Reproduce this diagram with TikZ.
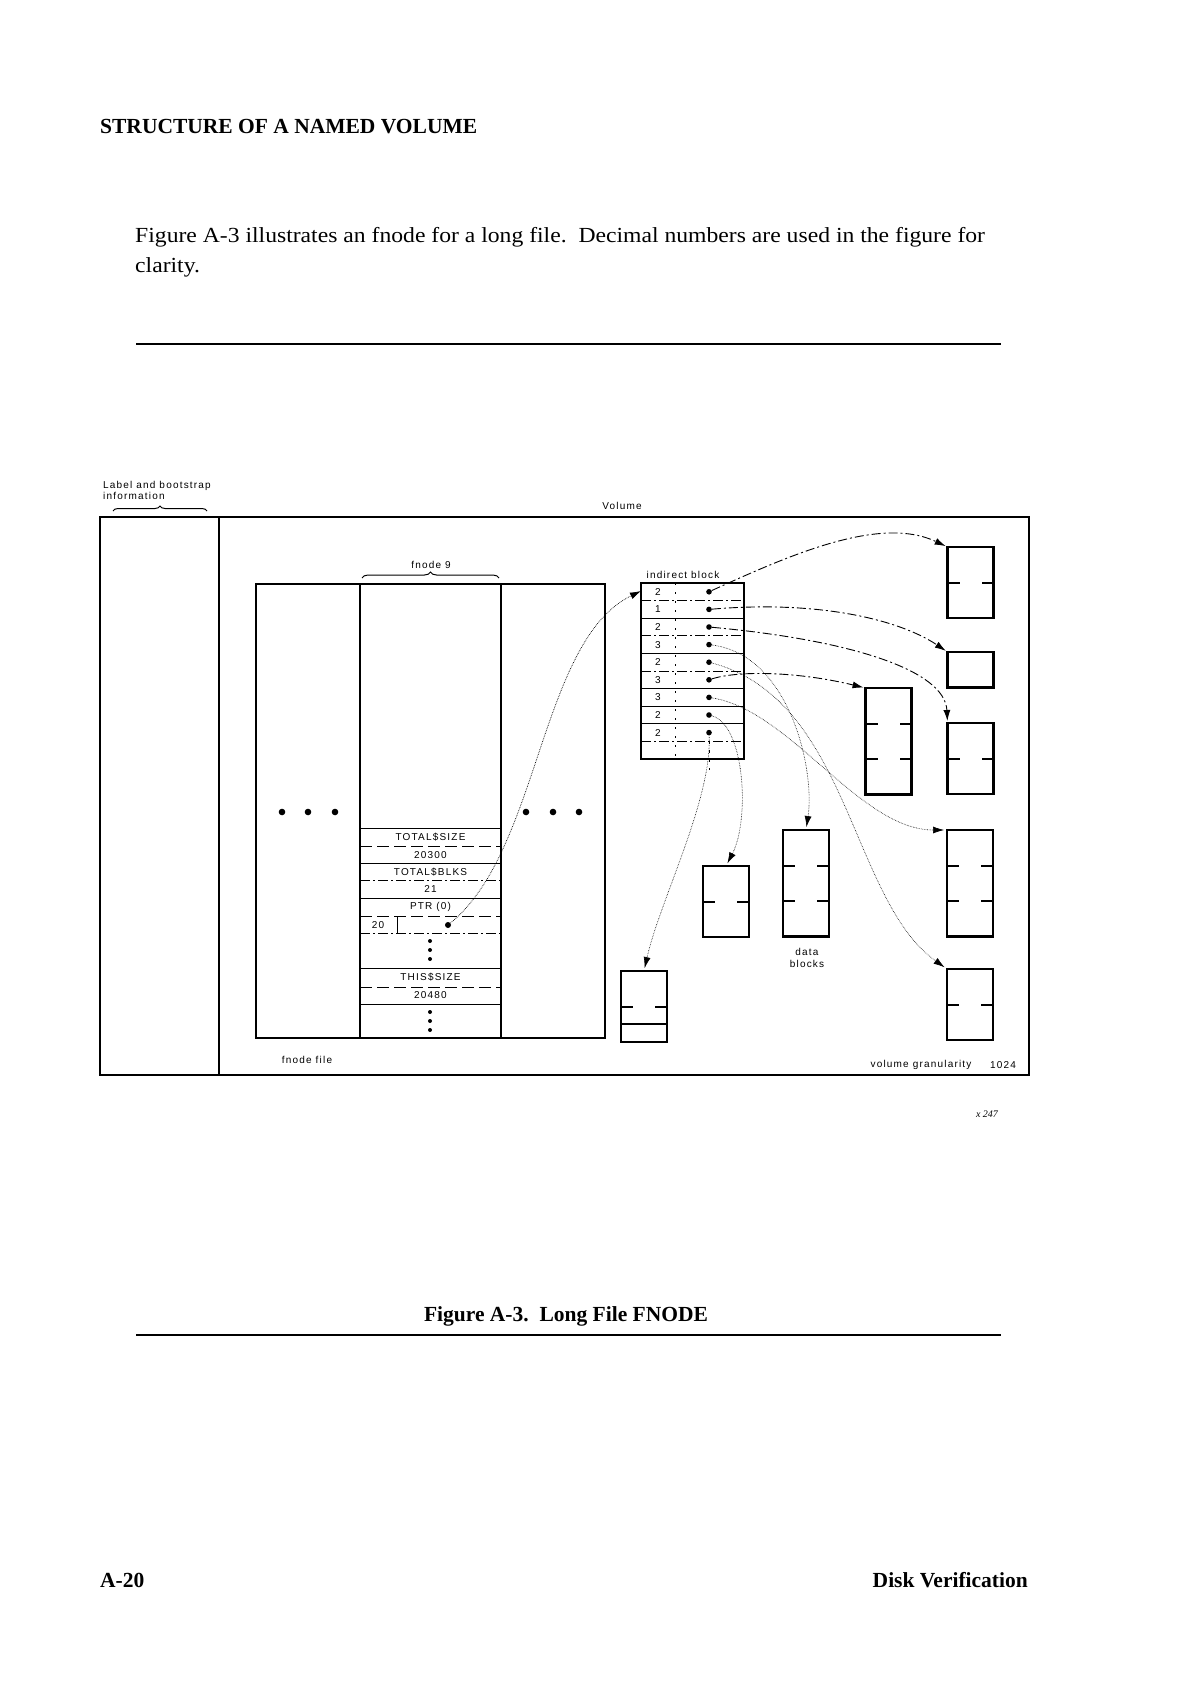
\documentclass[tikz,border=0pt]{standalone}
\usepackage{fontspec}
\setmainfont{Liberation Serif}
\newfontfamily\bodyfont[FakeStretch=1.1]{Liberation Serif}
\newfontfamily\diagfont[LetterSpace=12]{Liberation Sans}
\usetikzlibrary{arrows.meta, positioning, decorations.pathreplacing, calc}

\begin{document}
\begin{tikzpicture}[x=1pt, y=-1pt,
    lbl/.style={font=\diagfont\fontsize{10}{11.5}\selectfont, inner sep=0pt},
    hdr/.style={font=\bfseries\fontsize{21.5}{26}\selectfont, inner sep=0pt},
    txt/.style={font=\bodyfont\fontsize{21.5}{30}\selectfont, inner sep=0pt},
    col/.style={draw, line width=1.4pt, anchor=north west, inner sep=0pt, outer sep=0pt},
    datablk/.style={draw, line width=2.2pt, anchor=north, inner sep=0pt, outer sep=0pt, minimum width=46pt},
    dotn/.style={circle, fill, inner sep=0pt, minimum size=5.6pt},
    solidsep/.style={line width=1pt},
    dotsep/.style={line width=0.8pt, dash pattern=on 10pt off 3pt on 2pt off 3pt},
    ptrline/.style={line width=0.9pt, dash pattern=on 9pt off 3pt on 2pt off 3pt, shorten >=2pt, -{Latex[length=11pt,width=7pt]}},
    faint/.style={line width=0.6pt, densely dotted, shorten >=3pt, -{Latex[length=11pt,width=7pt]}}]

  % page
  \useasboundingbox (0,0) rectangle (1190,1683);
  \node[hdr, anchor=base west] (title) at (100,134) {STRUCTURE OF A NAMED VOLUME};
  \node[txt, anchor=base west] (para1) at (135,242) {Figure A-3 illustrates an fnode for a long file.\ \ Decimal numbers are used in the figure for};
  \node[txt, anchor=base west] (para2) at (135,272) {clarity.};
  \draw[line width=1.8pt] (136,344) -- (1001,344);

  % volume outline
  \draw[line width=1.8pt] (100,517) rectangle (1029,1075);
  \draw[line width=1.4pt] (219,517) -- (219,1075);
  \node[lbl, anchor=north west, align=left] (boot) at (103,481) {Label and bootstrap\\information};
  \draw[decorate, decoration={brace, amplitude=5pt}, line width=1pt] (113,511) -- (207,511);
  \node[lbl] (vol) at (622,506) {Volume};

  % fnode file
  \node[col, minimum width=104pt, minimum height=454pt] (colL) at (256,584) {};
  \node[col, minimum width=141pt, minimum height=454pt] (fnode9) at (360,584) {};
  \node[col, minimum width=104pt, minimum height=454pt] (colR) at (501,584) {};
  \draw[decorate, decoration={brace, amplitude=6pt}, line width=1pt] (362,578) -- (499,578);
  \node[lbl] (fn9lbl) at (431,565) {fnode 9};
  \node[lbl] (fflbl) at (307,1060) {fnode file};
  \foreach \x in {282,308,335,526,553,579}
    \fill (\x,812) circle (3.3pt);

  % fields of fnode 9
  \draw[line width=0.7pt] (360,828) -- (501,828);
  \draw[line width=0.8pt, dash pattern=on 12pt off 5pt] (360,846) -- (501,846);
  \draw[line width=1pt] (360,863) -- (501,863);
  \draw[dotsep] (360,880) -- (501,880);
  \draw[line width=1pt] (360,898) -- (501,898);
  \draw[line width=0.8pt, dash pattern=on 12pt off 5pt] (360,916) -- (501,916);
  \draw[dotsep] (360,933) -- (501,933);
  \draw[line width=0.8pt] (360,968) -- (501,968);
  \draw[line width=0.8pt, dash pattern=on 12pt off 5pt] (360,987) -- (501,987);
  \draw[line width=1pt] (360,1004) -- (501,1004);
  \draw[line width=0.8pt] (397,916) -- (397,933);
  \node[lbl] (tsize) at (430.5,837) {TOTAL\$SIZE};
  \node[lbl] (tsizev) at (430.5,855) {20300};
  \node[lbl] (tblks) at (430.5,872) {TOTAL\$BLKS};
  \node[lbl] (tblksv) at (430.5,889) {21};
  \node[lbl] (ptrlbl) at (430.5,907) {PTR (0)};
  \node[lbl] (ptrcnt) at (378,925) {20};
  \node[dotn, minimum size=6pt] (ptr) at (448,925) {};
  \node[lbl] (thsize) at (430.5,977) {THIS\$SIZE};
  \node[lbl] (thsizev) at (430.5,995) {20480};
  \foreach \y in {941,950,959,1012,1021,1030}
    \fill (430,\y) circle (2pt);

  % indirect block
  \node[draw, line width=2.4pt, inner sep=0pt, outer sep=0pt, anchor=north west,
        minimum width=103pt, minimum height=176pt] (indblk) at (641,583) {};
  \node[lbl] (indlbl) at (683,575) {indirect block};
  \foreach \k/\s in {1/dotsep,2/solidsep,3/dotsep,4/solidsep,5/dotsep,6/solidsep,7/solidsep,8/solidsep,9/dotsep}
    \draw[\s] (641,{583+\k*17.6}) -- (744,{583+\k*17.6});
  \draw[line width=0.5pt, dash pattern=on 2pt off 7pt] (675,583) -- (675,759);
  \draw[line width=0.6pt, dash pattern=on 3pt off 6pt] (709,741) -- (709,770);
  \foreach \v [count=\i] in {2,1,2,3,2,3,3,2,2} {
    \node[lbl] (n\i) at (658,{583+(\i-0.5)*17.6}) {\v};
    \node[dotn] (p\i) at (709,{583+(\i-0.5)*17.6}) {};
  }

  % data blocks
  \foreach \nm/\cx/\ty/\ns in {A/970.5/547/2, B/970.5/652/1, C/970.5/723/2, D/888.5/688/3,
      E/970/830/3, F/970/969/2, G/806/830/3, H/726/866/2, I/644/971/2}
    \node[datablk, minimum height=\ns*35.5pt] (blk\nm) at (\cx,\ty) {};
  \foreach \nm/\k in {A/1,C/1,D/1,D/2,E/1,E/2,F/1,G/1,G/2,H/1,I/1} {
    \draw[line width=2pt] ($(blk\nm.north west)+(0,\k*35.5)$) -- ++(12,0);
    \draw[line width=2pt] ($(blk\nm.north east)+(0,\k*35.5)$) -- ++(-12,0);
  }
  \draw[line width=2pt] ($(blkI.north west)+(0,53)$) -- ($(blkI.north east)+(0,53)$);
  \node[lbl, align=center] (dblbl) at (807,958) {data\\blocks};
  \node[lbl] (vgran) at (921,1065) {volume granularity};
  \node[lbl] (vgval) at (1003,1065) {1024};

  % pointers
  \draw[line width=0.7pt, densely dotted, -{Latex[length=11pt,width=7pt]}]
    (ptr) .. controls (540,850) and (540,640) .. ($(indblk.north west)+(0,8)$);
  \draw[ptrline] (p1) .. controls (790,555) and (880,515) .. (blkA.north west);
  \draw[ptrline] (p2) .. controls (820,600) and (900,620) .. (blkB.north west);
  \draw[ptrline] (p3) .. controls (850,640) and (945,670) .. (blkC.north west);
  \draw[ptrline] (p6) .. controls (740,670) and (800,672) .. (blkD.north west);
  \draw[faint] (p4) .. controls (790,655) and (815,770) .. (blkG.north);
  \draw[faint] (p5) .. controls (850,700) and (850,900) .. (blkF.north west);
  \draw[faint] (p7) .. controls (790,710) and (860,830) .. (blkE.north west);
  \draw[faint] (p8) .. controls (745,725) and (750,820) .. (blkH.north);
  \draw[faint] (p9) .. controls (712,800) and (660,900) .. (blkI.north);

  \node[font=\itshape\fontsize{10}{12}\selectfont, inner sep=0pt] (figno) at (987,1114) {x 247};

  % caption and footer
  \node[hdr, anchor=base] (caption) at (566,1321) {Figure A-3.\ \ Long File FNODE};
  \draw[line width=1.8pt] (136,1335) -- (1001,1335);
  \node[hdr, anchor=base west] (pgno) at (100,1587) {A-20};
  \node[hdr, anchor=base east] (chap) at (1028,1587) {Disk Verification};
\end{tikzpicture}
\end{document}
